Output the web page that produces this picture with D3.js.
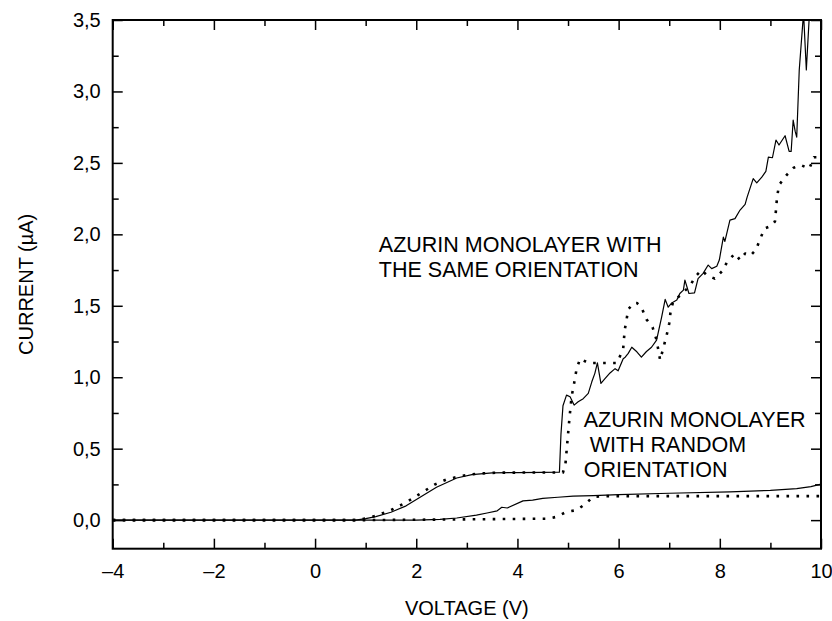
<!DOCTYPE html>
<html>
<head>
<meta charset="utf-8">
<script src="https://cdn.jsdelivr.net/npm/d3@7"></script>
<style>
  body { margin: 0; background: #fff; }
  svg { display: block; font-family: "Liberation Sans", Arial, Helvetica, sans-serif; }
</style>
</head>
<body>
<svg></svg>
<script>
// same orientation, solid trace
const sameSolidV = [-4, 0.8, 1.0, 1.2, 1.5, 1.8, 2.1, 2.4, 2.8, 3.1, 3.5, 4.0, 4.5, 4.83, 4.86, 4.9, 4.97, 5.04, 5.12, 5.2, 5.3, 5.4, 5.47, 5.53, 5.58, 5.65, 5.73, 5.83, 5.93, 5.99, 6.09, 6.13, 6.19, 6.26, 6.36, 6.45, 6.55, 6.65, 6.75, 6.85, 6.92, 6.98, 7.05, 7.15, 7.21, 7.28, 7.31, 7.39, 7.5, 7.57, 7.67, 7.77, 7.84, 7.94, 7.99, 8.07, 8.1, 8.2, 8.3, 8.4, 8.5, 8.54, 8.66, 8.73, 8.83, 8.91, 8.96, 9.04, 9.11, 9.17, 9.29, 9.37, 9.41, 9.45, 9.49, 9.52, 9.57, 9.655, 9.71, 9.78, 9.9, 10];
const sameSolidI = [0, 0, 0.01, 0.025, 0.055, 0.1, 0.165, 0.23, 0.295, 0.318, 0.33, 0.333, 0.334, 0.335, 0.6, 0.8, 0.875, 0.863, 0.805, 0.828, 0.85, 0.887, 0.968, 1.027, 1.1, 0.957, 0.99, 1.03, 1.06, 1.045, 1.13, 1.14, 1.167, 1.21, 1.178, 1.14, 1.18, 1.21, 1.26, 1.42, 1.545, 1.49, 1.52, 1.54, 1.586, 1.61, 1.68, 1.586, 1.59, 1.69, 1.727, 1.785, 1.76, 1.777, 1.82, 1.98, 1.95, 2.1, 2.11, 2.17, 2.21, 2.26, 2.39, 2.36, 2.4, 2.44, 2.54, 2.536, 2.66, 2.625, 2.69, 2.58, 2.58, 2.8, 2.72, 2.68, 3.15, 3.55, 3.15, 3.6, 3.9, 4.0];

// same orientation, dotted trace
const sameDotV = [-4, 0.8, 1.0, 1.2, 1.5, 1.8, 2.1, 2.37, 2.6, 2.9, 3.2, 3.6, 4.2, 4.9, 4.95, 4.99, 5.03, 5.07, 5.12, 5.17, 5.24, 5.4, 5.8, 5.97, 6.09, 6.12, 6.16, 6.19, 6.3, 6.36, 6.45, 6.55, 6.67, 6.75, 6.82, 6.88, 6.95, 7.0, 7.03, 7.08, 7.24, 7.41, 7.53, 7.64, 7.74, 7.9, 8.04, 8.15, 8.3, 8.4, 8.5, 8.6, 8.71, 8.79, 8.88, 9.02, 9.09, 9.11, 9.13, 9.17, 9.32, 9.46, 9.6, 9.77, 9.86, 10];
const sameDotI = [0, 0, 0.012, 0.03, 0.07, 0.124, 0.19, 0.25, 0.285, 0.31, 0.325, 0.332, 0.333, 0.333, 0.397, 0.56, 0.72, 0.863, 0.957, 1.06, 1.13, 1.1, 1.1, 1.1, 1.2, 1.33, 1.41, 1.475, 1.52, 1.52, 1.49, 1.405, 1.35, 1.26, 1.12, 1.2, 1.295, 1.376, 1.47, 1.53, 1.58, 1.64, 1.71, 1.75, 1.715, 1.69, 1.74, 1.81, 1.866, 1.82, 1.866, 1.85, 1.89, 1.96, 2.04, 2.06, 2.09, 2.17, 2.255, 2.345, 2.415, 2.466, 2.485, 2.46, 2.54, 2.54];

// random orientation, solid trace
const randSolidV = [-4, 2.0, 2.47, 2.8, 3.19, 3.4, 3.6, 3.69, 3.8, 4.11, 4.3, 4.5, 4.8, 5.1, 5.5, 6.0, 7.0, 8.2, 9.0, 9.52, 9.8, 10];
const randSolidI = [0, 0, 0.005, 0.015, 0.035, 0.05, 0.065, 0.09, 0.085, 0.135, 0.14, 0.152, 0.16, 0.168, 0.172, 0.178, 0.188, 0.198, 0.208, 0.22, 0.235, 0.252];

// random orientation, dotted trace
const randDotV = [-4, 1.0, 2.5, 4.6, 4.77, 4.97, 5.17, 5.33, 5.5, 5.7, 10];
const randDotI = [0, 0, 0.004, 0.01, 0.023, 0.058, 0.07, 0.11, 0.163, 0.168, 0.168];

const xMajor = [-4, -2, 0, 2, 4, 6, 8, 10];
const xMinor = [-3, -1, 1, 3, 5, 7, 9];
const yMajor = [0, 0.5, 1.0, 1.5, 2.0, 2.5, 3.0, 3.5];
const yMinor = [0.25, 0.75, 1.25, 1.75, 2.25, 2.75, 3.25];

const xTitle = "VOLTAGE (V)";
const yTitle = "CURRENT (\u00b5A)";
const noteSame = ["AZURIN MONOLAYER WITH", "THE SAME ORIENTATION"];
const noteRandom = ["AZURIN MONOLAYER", "\u00a0WITH RANDOM", "ORIENTATION"];

let width = 832;
let height = 621;
let padL = 112.7, padR = 821, padT = 20, padB = 548.7;

const svg = d3.select("svg").attr("width", width).attr("height", height);

const xScale = d3.scaleLinear().domain([-4, 10]).range([padL, padR]);
const yScale = d3.scaleLinear().domain([-0.2, 3.5]).range([padB, padT]);

const fmtX = (d) => (d < 0 ? "\u2013" + Math.abs(d) : String(d));
const fmtY = (d) => d.toFixed(1).replace(".", ",");

// ticks, inward on all four sides
const addAxis = (axis, tx, ty, labels) => {
  const g = svg.append("g").attr("transform", `translate(${tx},${ty})`).call(axis);
  g.select(".domain").remove();
  g.selectAll("line").attr("stroke", "#000").attr("stroke-width", 1.5);
  g.selectAll("text").attr("fill", "#000").style("font-size", "20px");
  if (!labels) g.selectAll("text").remove();
  return g;
};

addAxis(d3.axisBottom(xScale).tickValues(xMajor).tickSizeInner(-10).tickSizeOuter(0).tickPadding(15).tickFormat(fmtX), 0, padB, true);
addAxis(d3.axisBottom(xScale).tickValues(xMinor).tickSizeInner(-6).tickSizeOuter(0), 0, padB, false);
addAxis(d3.axisTop(xScale).tickValues(xMajor).tickSizeInner(-10).tickSizeOuter(0), 0, padT, false);
addAxis(d3.axisTop(xScale).tickValues(xMinor).tickSizeInner(-6).tickSizeOuter(0), 0, padT, false);
addAxis(d3.axisLeft(yScale).tickValues(yMajor).tickSizeInner(-10).tickSizeOuter(0).tickPadding(12).tickFormat(fmtY), padL, 0, true);
addAxis(d3.axisLeft(yScale).tickValues(yMinor).tickSizeInner(-6).tickSizeOuter(0), padL, 0, false);
addAxis(d3.axisRight(yScale).tickValues(yMajor).tickSizeInner(-10).tickSizeOuter(0), padR, 0, false);
addAxis(d3.axisRight(yScale).tickValues(yMinor).tickSizeInner(-6).tickSizeOuter(0), padR, 0, false);

svg.append("rect")
  .attr("x", padL).attr("y", padT)
  .attr("width", padR - padL).attr("height", padB - padT)
  .attr("fill", "none").attr("stroke", "#000").attr("stroke-width", 2);

svg.append("clipPath").attr("id", "plot")
  .append("rect").attr("x", padL).attr("y", padT)
  .attr("width", padR - padL).attr("height", padB - padT);

const line = d3.line().x((d) => xScale(d[0])).y((d) => yScale(d[1]));

const series = [
  { v: randDotV, i: randDotI, dotted: true },
  { v: sameDotV, i: sameDotI, dotted: true },
  { v: randSolidV, i: randSolidI, dotted: false },
  { v: sameSolidV, i: sameSolidI, dotted: false },
];

const plot = svg.append("g").attr("clip-path", "url(#plot)");
series.forEach((s) => {
  plot.append("path")
    .datum(s.v.map((v, k) => [v, s.i[k]]))
    .attr("d", line)
    .attr("fill", "none")
    .attr("stroke", "#000")
    .attr("stroke-width", s.dotted ? 2.6 : 1.2)
    .attr("stroke-dasharray", s.dotted ? "2.6,7.4" : null)
    .attr("stroke-linejoin", "round");
});

// annotations
const note = (lines, xv, yv, gap) => {
  const t = svg.append("text")
    .attr("x", xScale(xv)).attr("y", yScale(yv))
    .style("font-size", "21.5px").attr("fill", "#000");
  lines.forEach((s, k) => {
    t.append("tspan").attr("x", xScale(xv)).attr("dy", k === 0 ? 0 : gap).text(s);
  });
};
note(noteSame, 1.26, 1.876, 24.5);
note(noteRandom, 5.31, 0.653, 25);

svg.append("text")
  .attr("x", (padL + padR) / 2).attr("y", 615)
  .attr("text-anchor", "middle").style("font-size", "20px")
  .text(xTitle);

svg.append("text")
  .attr("transform", `translate(33, ${(padT + padB) / 2}) rotate(-90)`)
  .attr("text-anchor", "middle").style("font-size", "20px")
  .text(yTitle);
</script>
</body>
</html>
